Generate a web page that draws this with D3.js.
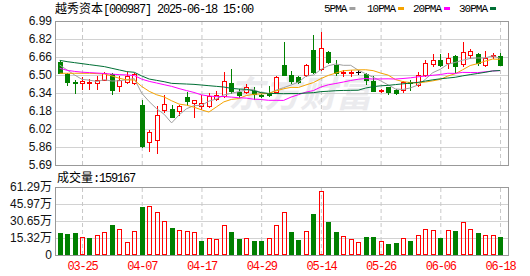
<!DOCTYPE html>
<html>
<head>
<meta charset="utf-8">
<script src="https://cdn.jsdelivr.net/npm/d3@7"></script>
<style>
body { margin: 0; background: #fff; }
svg { display: block; }
.mono { font-family: "Liberation Mono", "DejaVu Sans Mono", monospace; }
.cjk { font-family: "Noto Sans CJK SC", sans-serif; }
</style>
</head>
<body>
<svg id="chart" width="530" height="276"></svg>
<script>
// ---- data ----
const title = "越秀资本[000987] 2025-06-18 15:00";

const dates = ["03-20","03-21","03-24","03-25","03-26","03-27","03-28","03-31",
  "04-01","04-02","04-03","04-07","04-08","04-09","04-10","04-11","04-14","04-15","04-16","04-17",
  "04-18","04-21","04-22","04-23","04-24","04-25","04-28","04-29","04-30",
  "05-06","05-07","05-08","05-09","05-12","05-13","05-14","05-15","05-16","05-19","05-20",
  "05-21","05-22","05-23","05-26","05-27","05-28","05-29","05-30",
  "06-03","06-04","06-05","06-06","06-09","06-10","06-11","06-12","06-13","06-16","06-17","06-18"];

const open  = [6.62,6.51,6.44,6.43,6.43,6.43,6.46,6.51,6.40,6.44,6.43,6.23,5.90,5.92,6.19,6.20,6.18,6.30,6.25,6.22,
               6.22,6.29,6.31,6.43,6.35,6.35,6.36,6.32,6.33,6.35,6.59,6.50,6.48,6.50,6.73,6.56,6.71,6.59,6.52,6.52,
               6.53,6.51,6.45,6.36,6.39,6.37,6.37,6.44,6.41,6.50,6.60,6.64,6.61,6.67,6.60,6.68,6.69,6.59,6.67,6.67];
const high  = [6.63,6.52,6.46,6.48,6.47,6.49,6.53,6.52,6.49,6.53,6.52,6.28,6.01,6.22,6.32,6.23,6.23,6.35,6.28,6.32,
               6.34,6.36,6.53,6.56,6.38,6.42,6.39,6.33,6.40,6.49,6.80,6.54,6.49,6.60,6.86,6.89,6.72,6.64,6.55,6.55,
               6.55,6.52,6.49,6.38,6.39,6.38,6.45,6.46,6.53,6.64,6.69,6.69,6.70,6.68,6.80,6.74,6.70,6.72,6.70,6.70];
const low   = [6.52,6.41,6.34,6.38,6.38,6.38,6.46,6.33,6.36,6.43,6.42,5.85,5.82,5.80,6.17,6.12,6.14,6.23,6.12,6.20,
               6.21,6.28,6.30,6.34,6.30,6.34,6.29,6.30,6.31,6.35,6.50,6.43,6.43,6.49,6.52,6.55,6.61,6.50,6.49,6.49,
               6.51,6.42,6.36,6.35,6.33,6.33,6.35,6.37,6.40,6.49,6.58,6.58,6.57,6.53,6.58,6.66,6.59,6.58,6.66,6.59];
const close = [6.52,6.44,6.43,6.45,6.44,6.46,6.52,6.37,6.46,6.49,6.51,5.86,5.99,6.14,6.24,6.12,6.22,6.27,6.28,6.25,
               6.31,6.32,6.45,6.36,6.32,6.39,6.33,6.31,6.32,6.48,6.50,6.45,6.44,6.59,6.53,6.75,6.62,6.52,6.53,6.53,
               6.53,6.46,6.36,6.37,6.35,6.34,6.44,6.43,6.50,6.61,6.64,6.59,6.66,6.58,6.71,6.72,6.61,6.66,6.68,6.59];

// volume in lots (手)
const volume = [198000,189000,198000,159000,153000,177000,204000,270000,231000,114000,
                216000,433000,442000,388000,306000,243000,225000,216000,207000,129000,
                153000,144000,270000,207000,147000,153000,129000,129000,153000,270000,
                388000,207000,138000,216000,369000,577000,300000,207000,168000,144000,
                117000,162000,162000,126000,99000,108000,153000,126000,177000,231000,
                225000,153000,225000,216000,297000,231000,198000,177000,177000,159167];

const ma5  = [6.593,6.548,6.503,6.463,6.456,6.444,6.460,6.448,6.450,6.460,6.470,6.338,6.262,6.198,6.148,6.070,6.142,6.198,6.226,6.228,
              6.266,6.286,6.322,6.338,6.352,6.368,6.370,6.342,6.334,6.366,6.388,6.412,6.438,6.492,6.502,6.552,6.586,6.602,6.590,6.590,
              6.546,6.514,6.482,6.450,6.414,6.376,6.372,6.386,6.412,6.464,6.524,6.554,6.600,6.616,6.636,6.652,6.656,6.656,6.676,6.652];
const ma10 = [6.518,6.518,6.518,6.518,6.518,6.515,6.512,6.494,6.473,6.458,6.457,6.399,6.355,6.324,6.304,6.270,6.240,6.230,6.212,6.188,
              6.168,6.214,6.260,6.282,6.290,6.317,6.328,6.332,6.336,6.359,6.378,6.391,6.390,6.413,6.434,6.470,6.499,6.520,6.541,6.546,
              6.549,6.550,6.542,6.520,6.502,6.461,6.443,6.434,6.431,6.439,6.450,6.463,6.493,6.514,6.550,6.588,6.605,6.628,6.646,6.644];
const ma20 = [6.563,6.545,6.535,6.528,6.524,6.520,6.516,6.510,6.506,6.503,6.498,6.465,6.445,6.430,6.415,6.400,6.380,6.362,6.345,6.323,
              6.313,6.307,6.308,6.303,6.297,6.294,6.284,6.281,6.274,6.274,6.273,6.303,6.325,6.348,6.362,6.394,6.414,6.426,6.439,6.453,
              6.464,6.471,6.466,6.467,6.468,6.466,6.471,6.477,6.486,6.493,6.500,6.507,6.518,6.517,6.526,6.525,6.524,6.531,6.539,6.542];
const ma30 = [6.635,6.623,6.614,6.605,6.596,6.587,6.578,6.563,6.548,6.533,6.527,6.494,6.466,6.454,6.442,6.427,6.424,6.421,6.418,6.412,
              6.406,6.400,6.394,6.382,6.376,6.373,6.361,6.343,6.336,6.335,6.334,6.335,6.335,6.340,6.343,6.352,6.356,6.361,6.363,6.364,
              6.365,6.385,6.397,6.405,6.409,6.416,6.423,6.429,6.436,6.448,6.459,6.468,6.475,6.482,6.495,6.506,6.516,6.527,6.539,6.543];

const maNames = ["5PMA", "10PMA", "20PMA", "30PMA"];

const priceTickValues = [6.99, 6.8275, 6.665, 6.5025, 6.34, 6.1775, 6.015, 5.8525, 5.69];
const priceTickLabels = ["6.99", "6.82", "6.66", "6.50", "6.34", "6.18", "6.02", "5.86", "5.69"];
const volTickValues = [0, 153225, 306450, 459675, 612900];
const volTickLabels = ["0", "15.32万", "30.65万", "45.97万", "61.29万"];
const dateTicks = ["03-25", "04-07", "04-17", "04-29", "05-14", "05-26", "06-06", "06-18"];

// ---- layout ----
const L = 55, R = 509;
const pTop = 21, pBot = 165;
const vTop = 187, vBot = 255;
const RED = "#ff0000", GREEN = "#008000";
const maColors = ["#a0a0a0", "#f5a300", "#ff00ff", "#006f35"];

const svg = d3.select("#chart");

const x = d3.scaleLinear().domain([-0.62, dates.length + 0.2]).range([L, R]);
const y = d3.scaleLinear().domain([5.69, 6.99]).range([pBot, pTop]);
const yv = d3.scaleLinear().domain([0, 612900]).range([vBot, vTop]);
const dateIdx = dateTicks.map(d => dates.indexOf(d));

// watermark
svg.append("text")
  .attr("class", "cjk")
  .attr("x", 228).attr("y", 107)
  .attr("font-size", 36).attr("font-weight", "bold").attr("font-style", "italic")
  .attr("fill", "#ebebee")
  .text("东方财富");

// horizontal grid lines
function hgrid(scale, vals) {
  svg.append("g")
    .attr("transform", `translate(${L},0)`)
    .call(d3.axisLeft(scale).tickValues(vals).tickSize(-(R - L)).tickFormat(""))
    .call(g => g.select(".domain").remove())
    .call(g => g.selectAll("line").attr("stroke", "#d2d2d2"));
}
hgrid(y, priceTickValues.slice(1, -1));
hgrid(yv, volTickValues.slice(1, -1));

// vertical dashed lines
function vgrid(top, bot) {
  svg.append("g")
    .attr("transform", `translate(0,${bot})`)
    .call(d3.axisBottom(x).tickValues(dateIdx).tickSize(-(bot - top)).tickFormat(""))
    .call(g => g.select(".domain").remove())
    .call(g => g.selectAll("line").attr("stroke", "#c8c8c8").attr("stroke-dasharray", "4,3"));
}
vgrid(pTop, pBot);
vgrid(vTop, vBot);

// frames
svg.append("rect").attr("x", L + 0.5).attr("y", pTop + 0.5).attr("width", R - L - 1).attr("height", pBot - pTop)
  .attr("fill", "none").attr("stroke", "#999");
svg.append("rect").attr("x", L + 0.5).attr("y", vTop + 0.5).attr("width", R - L - 1).attr("height", vBot - vTop)
  .attr("fill", "none").attr("stroke", "#999");

// candles
const idx = d3.range(dates.length);
const cg = svg.append("g");
idx.forEach(i => {
  const cx = Math.round(x(i));
  const col = close[i] > open[i] ? RED : close[i] < open[i] ? GREEN : "#000";
  cg.append("line")
    .attr("x1", cx + 0.5).attr("x2", cx + 0.5)
    .attr("y1", Math.round(y(high[i]))).attr("y2", Math.round(y(low[i])) + 1)
    .attr("stroke", col);
  const yo = Math.round(y(open[i])), yc = Math.round(y(close[i]));
  if (close[i] > open[i]) {
    cg.append("rect")
      .attr("x", cx - 1.5).attr("y", yc + 0.5)
      .attr("width", 4).attr("height", Math.max(yo - yc, 1))
      .attr("fill", "#fff").attr("stroke", col);
  } else if (close[i] < open[i]) {
    cg.append("rect")
      .attr("x", cx - 2).attr("y", yo)
      .attr("width", 5).attr("height", Math.max(yc - yo, 1) + 1)
      .attr("fill", col);
  } else {
    cg.append("line")
      .attr("x1", cx - 2).attr("x2", cx + 3)
      .attr("y1", yc + 0.5).attr("y2", yc + 0.5)
      .attr("stroke", col);
  }
});

// moving averages
const line = d3.line().x((d, i) => x(i)).y(d => y(d));
[ma5, ma10, ma20, ma30].forEach((s, k) => {
  svg.append("path").datum(s)
    .attr("d", line)
    .attr("fill", "none")
    .attr("stroke", maColors[k])
    .attr("stroke-width", 1);
});

// volume bars (colour by close vs previous close)
const vg = svg.append("g");
idx.forEach(i => {
  const cx = Math.round(x(i));
  const up = i === 0 ? close[i] >= open[i] : close[i] >= close[i - 1];
  const top = Math.round(yv(volume[i]));
  if (up) {
    vg.append("rect")
      .attr("x", cx - 1.5).attr("y", top + 0.5)
      .attr("width", 4).attr("height", vBot - top - 1)
      .attr("fill", "none").attr("stroke", RED);
  } else {
    vg.append("rect")
      .attr("x", cx - 2).attr("y", top)
      .attr("width", 5).attr("height", vBot - top)
      .attr("fill", GREEN);
  }
});

// axis labels
svg.append("g")
  .attr("transform", `translate(${L},0)`)
  .call(d3.axisLeft(y).tickValues(priceTickValues).tickFormat((d, i) => priceTickLabels[i]).tickSize(0).tickPadding(3))
  .call(g => g.select(".domain").remove())
  .call(g => g.selectAll("text").attr("font-family", "Liberation Sans, Arial, sans-serif").attr("font-size", 12).attr("fill", "#111"));

svg.append("g")
  .attr("transform", `translate(${L},0)`)
  .call(d3.axisLeft(yv).tickValues(volTickValues).tickFormat((d, i) => volTickLabels[i]).tickSize(0).tickPadding(3))
  .call(g => g.select(".domain").remove())
  .call(g => g.selectAll("text").attr("font-family", "Liberation Sans, Noto Sans CJK SC, sans-serif").attr("font-size", 12).attr("fill", "#111"));

svg.append("g")
  .attr("transform", `translate(0,270)`)
  .call(d3.axisBottom(x).tickValues(dateIdx).tickFormat(i => dates[i]).tickSize(0))
  .call(g => g.select(".domain").remove())
  .call(g => g.selectAll("text").attr("y", 0).attr("dy", null)
    .attr("class", "mono").attr("font-size", 12).attr("letter-spacing", -1.2).attr("fill", RED));

// title
const t = svg.append("text").attr("x", 55).attr("y", 13).attr("font-size", 12).attr("fill", "#000");
t.append("tspan").attr("class", "cjk").text(title.slice(0, 4));
t.append("tspan").attr("class", "mono").attr("letter-spacing", -1.2).text(title.slice(4));

// legend
const legX = [324, 367, 413, 459];
maNames.forEach((n, k) => {
  const tx = svg.append("text").attr("class", "mono")
    .attr("x", legX[k]).attr("y", 12).attr("font-size", 11).attr("letter-spacing", -1)
    .attr("fill", "#000").text(n);
  const w = tx.node().getComputedTextLength();
  svg.append("rect").attr("x", legX[k] + w + 3).attr("y", 7).attr("width", 6).attr("height", 3).attr("fill", maColors[k]);
});

// volume caption
const vt = svg.append("text").attr("x", 57).attr("y", 182).attr("font-size", 12).attr("fill", "#000");
vt.append("tspan").attr("class", "cjk").text("成交量");
vt.append("tspan").attr("class", "mono").attr("letter-spacing", -1.2).text(":" + volume[volume.length - 1]);
</script>
</body>
</html>
